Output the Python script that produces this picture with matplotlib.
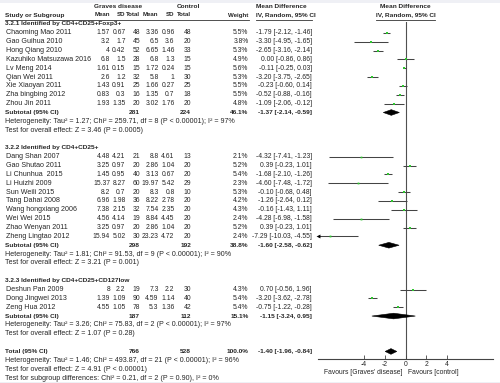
import numpy as np
import matplotlib as mpl
mpl.use('Agg')
import matplotlib.pyplot as plt
from matplotlib.patches import Polygon, Rectangle

#
#--- study level data (three subgroups)
#
grp_titles = ['3.2.1 Identified by CD4+CD25+Foxp3+',
              '3.2.2 Identified by CD4+CD25+',
              '3.2.3 Identified by CD4+CD25+CD127low']

names  = ['Chaoming Mao 2011', 'Gao Guihua 2010', 'Hong Qiang 2010',
          'Kazuhiko Matsuzawa 2016', 'Lv Meng 2014', 'Qian Wei 2011',
          'Xie Xiaoyan 2011', 'Zha bingbing 2012', 'Zhou Jin 2011',
          'Dang Shan 2007', 'Gao Shutao 2011', 'Li Chunhua  2015',
          'Li Huizhi 2009', 'Sun Weili 2015', 'Tang Dahai 2008',
          'Wang hongxiang 2006', 'Wei Wei 2015', 'Zhao Wenyan 2011',
          'Zheng Lingtao 2012',
          'Deshun Pan 2009', 'Dong Jingwei 2013', 'Zeng Hua 2012']
group  = [0] * 9 + [1] * 10 + [2] * 3

g_mean = [1.57, 3.2, 4, 6.8, 1.61, 2.6, 1.43, 0.83, 1.93,
          4.48, 3.25, 1.45, 15.37, 8.2, 6.96, 7.38, 4.56, 3.25, 15.94,
          8, 1.39, 4.55]
g_sd   = [0.67, 1.7, 0.42, 1.5, 0.15, 1.2, 0.91, 0.3, 1.35,
          4.21, 0.97, 0.95, 8.27, 0.7, 1.98, 2.15, 4.14, 0.97, 5.02,
          2.2, 1.09, 1.05]
g_tot  = [48, 45, 52, 28, 15, 32, 25, 16, 20,
          21, 20, 40, 60, 20, 36, 32, 19, 20, 30,
          19, 90, 78]
c_mean = [3.36, 6.5, 6.65, 6.8, 1.72, 5.8, 1.66, 1.35, 3.02,
          8.8, 2.86, 3.13, 19.97, 8.3, 8.22, 7.54, 8.84, 2.86, 23.23,
          7.3, 4.59, 5.3]
c_sd   = [0.96, 3.6, 1.46, 1.3, 0.24, 1, 0.27, 0.7, 1.76,
          4.61, 1.04, 0.67, 5.42, 0.8, 2.78, 2.35, 4.45, 1.04, 4.72,
          2.2, 1.14, 1.36]
c_tot  = [48, 20, 33, 15, 15, 30, 25, 18, 20,
          13, 20, 20, 29, 10, 20, 20, 20, 20, 20,
          30, 40, 42]
weight = [5.5, 3.8, 5.3, 4.9, 5.6, 5.3, 5.5, 5.5, 4.8,
          2.1, 5.2, 5.4, 2.3, 5.3, 4.2, 4.3, 2.4, 5.2, 2.4,
          4.3, 5.4, 5.4]
md     = [-1.79, -3.30, -2.65, 0.00, -0.11, -3.20, -0.23, -0.52, -1.09,
          -4.32, 0.39, -1.68, -4.60, -0.10, -1.26, -0.16, -4.28, 0.39, -7.29,
          0.70, -3.20, -0.75]
md_lo  = [-2.12, -4.95, -3.16, -0.86, -0.25, -3.75, -0.60, -0.88, -2.06,
          -7.41, -0.23, -2.10, -7.48, -0.68, -2.64, -1.43, -6.98, -0.23, -10.03,
          -0.56, -3.62, -1.22]
md_hi  = [-1.46, -1.65, -2.14, 0.86, 0.03, -2.65, 0.14, -0.16, -0.12,
          -1.23, 1.01, -1.26, -1.72, 0.48, 0.12, 1.11, -1.58, 1.01, -4.55,
          1.96, -2.78, -0.28]

#
#--- subgroup summaries
#
sub_gtot = [281, 298, 187]
sub_ctot = [224, 192, 112]
sub_wt   = [46.1, 38.8, 15.1]
sub_md   = [-1.37, -1.60, -1.15]
sub_lo   = [-2.14, -2.58, -3.24]
sub_hi   = [-0.59, -0.62, 0.95]
sub_het  = ['Heterogeneity: Tau\u00b2 = 1.27; Chi\u00b2 = 259.71, df = 8 (P < 0.00001); I\u00b2 = 97%',
            'Heterogeneity: Tau\u00b2 = 1.81; Chi\u00b2 = 91.53, df = 9 (P < 0.00001); I\u00b2 = 90%',
            'Heterogeneity: Tau\u00b2 = 3.26; Chi\u00b2 = 75.83, df = 2 (P < 0.00001); I\u00b2 = 97%']
sub_test = ['Test for overall effect: Z = 3.46 (P = 0.0005)',
            'Test for overall effect: Z = 3.21 (P = 0.001)',
            'Test for overall effect: Z = 1.07 (P = 0.28)']

#
#--- overall summary
#
tot_gtot = 766
tot_ctot = 528
tot_wt   = 100.0
tot_md   = -1.40
tot_lo   = -1.96
tot_hi   = -0.84
tot_text = ['Heterogeneity: Tau\u00b2 = 1.46; Chi\u00b2 = 493.87, df = 21 (P < 0.00001); I\u00b2 = 96%',
            'Test for overall effect: Z = 4.91 (P < 0.00001)',
            'Test for subgroup differences: Chi\u00b2 = 0.21, df = 2 (P = 0.90), I\u00b2 = 0%']

xticks = [-4, -2, 0, 2, 4]

#
#--- layout (pixel positions on a 500x383 canvas)
#
W, H    = 500, 383
ROW0    = 24.0
DROW    = 8.85
XMIN    = -8.43
XMAX    = 8.43
FS      = 5.15      # running text
FN      = 4.85      # numeric table columns
FB      = 4.65      # bold labels / totals
FH      = 4.4       # bold column headers
TCOL    = '#262626'

X_NAME  = 6
X_GM    = 110
X_GSD   = 125.5
X_GN    = 140
X_CM    = 158.5
X_CSD   = 174.5
X_CN    = 191
X_WT    = 248.5
X_MDL   = 256
X_MD    = 312


def ypx(r):
    return ROW0 + DROW * r


def put(ax, x, r, s, ha='left', bold=False, size=FS):
    ax.text(x, ypx(r), s, ha=ha, va='center', fontsize=size, color=TCOL,
            fontweight='bold' if bold else 'normal')


def diamond(ax, est, lo, hi, r, h=0.32):
    p = Polygon([[lo, r], [est, r - h], [hi, r], [est, r + h]],
                closed=True, facecolor='black', edgecolor='black', lw=0.4, zorder=4)
    ax.add_patch(p)


plt.rcParams['font.family']        = ['Liberation Sans', 'DejaVu Sans']
plt.rcParams['axes.unicode_minus'] = False

fig = plt.figure(figsize=(5.0, 3.83), dpi=100)
fig.patch.set_facecolor('#eff0f5')
fig.patches.append(Rectangle((0, 1.5 / H), 1, (H - 4.5) / H, transform=fig.transFigure,
                             facecolor='white', edgecolor='none', zorder=-5))

#
#--- text layer in pixel coordinates
#
at = fig.add_axes([0, 0, 1, 1])
at.set_xlim(0, W)
at.set_ylim(H, 0)
at.axis('off')
at.patch.set_alpha(0)

#
#--- forest panel, y in row units
#
y_top = 22.0
y_bot = 359.3
af = fig.add_axes([318 / W, (H - y_bot) / H, 175 / W, (y_bot - y_top) / H])
af.set_xlim(XMIN, XMAX)
af.set_ylim((y_bot - ROW0) / DROW, (y_top - ROW0) / DROW)
af.patch.set_alpha(0)
for s in ['top', 'left', 'right']:
    af.spines[s].set_visible(False)
af.spines['bottom'].set_color('#444444')
af.spines['bottom'].set_linewidth(0.8)
af.set_yticks([])
af.set_xticks(xticks)
af.set_xticklabels([str(t) for t in xticks])
af.tick_params(axis='x', direction='in', length=3, width=0.6, color='#444444',
               labelsize=FN, labelcolor=TCOL, pad=1.2)
af.axvline(0, color='#505050', lw=0.8, zorder=1)

#
#--- column headers
#
hr1 = (7.0 - ROW0) / DROW
hr2 = (15.0 - ROW0) / DROW
put(at, 118, hr1, 'Graves disease', ha='center', bold=True, size=FB)
put(at, 188, hr1, 'Control', ha='center', bold=True, size=FB)
put(at, 5, hr2, 'Study or Subgroup', bold=True, size=FB)
for x, s in zip([X_GM, X_GSD, X_GN, X_CM, X_CSD, X_CN, X_WT],
                ['Mean', 'SD', 'Total', 'Mean', 'SD', 'Total', 'Weight']):
    put(at, x, hr2, s, ha='right', bold=True, size=FH)
put(at, X_MDL, hr1, 'Mean Difference', bold=True, size=FB)
put(at, X_MDL, hr2, 'IV, Random, 95% CI', bold=True, size=FB)
put(at, 405.5, hr1, 'Mean Difference', ha='center', bold=True, size=FB)
put(at, 405.5, hr2, 'IV, Random, 95% CI', ha='center', bold=True, size=FB)
for x0, x1 in [(5, 249), (256, 312), (376, 435)]:
    at.plot([x0, x1], [19.6, 19.6], color='#333333', lw=0.6)

#
#--- groups, studies and subtotals
#
r = 0
for g in range(len(grp_titles)):
    put(at, 5, r, grp_titles[g], bold=True, size=FB)
    r += 1
    for i in [k for k in range(len(names)) if group[k] == g]:
        put(at, X_NAME, r, names[i])
        put(at, X_GM, r, f'{g_mean[i]:g}', ha='right', size=FN)
        put(at, X_GSD, r, f'{g_sd[i]:g}', ha='right', size=FN)
        put(at, X_GN, r, f'{g_tot[i]}', ha='right', size=FN)
        put(at, X_CM, r, f'{c_mean[i]:g}', ha='right', size=FN)
        put(at, X_CSD, r, f'{c_sd[i]:g}', ha='right', size=FN)
        put(at, X_CN, r, f'{c_tot[i]}', ha='right', size=FN)
        put(at, X_WT, r, f'{weight[i]:.1f}%', ha='right', size=FN)
        put(at, X_MD, r, f'{md[i]:.2f} [{md_lo[i]:.2f}, {md_hi[i]:.2f}]', ha='right', size=FN)

        lo = max(md_lo[i], XMIN)
        hi = min(md_hi[i], XMAX)
        af.plot([lo, hi], [r, r], color='#444444', lw=0.75, zorder=2,
                solid_capstyle='butt', snap=True)
        if md_lo[i] < XMIN:
            af.plot([XMIN], [r], marker='<', ms=2.8, color='black', mew=0, clip_on=False, zorder=3)
        af.plot([md[i]], [r], marker='s', ms=0.85 * np.sqrt(weight[i]),
                color='#2fc62f', mew=0, zorder=3)
        r += 1

    put(at, 5, r, 'Subtotal (95% CI)', bold=True, size=FB)
    put(at, X_GN, r, f'{sub_gtot[g]}', ha='right', bold=True, size=FB)
    put(at, X_CN, r, f'{sub_ctot[g]}', ha='right', bold=True, size=FB)
    put(at, X_WT, r, f'{sub_wt[g]:.1f}%', ha='right', bold=True, size=FB)
    put(at, X_MD, r, f'{sub_md[g]:.2f} [{sub_lo[g]:.2f}, {sub_hi[g]:.2f}]', ha='right', bold=True, size=FB)
    diamond(af, sub_md[g], sub_lo[g], sub_hi[g], r)
    put(at, 5, r + 1, sub_het[g])
    put(at, 5, r + 2, sub_test[g])
    r += 4

#
#--- overall total
#
put(at, 5, r, 'Total (95% CI)', bold=True, size=FB)
put(at, X_GN, r, f'{tot_gtot}', ha='right', bold=True, size=FB)
put(at, X_CN, r, f'{tot_ctot}', ha='right', bold=True, size=FB)
put(at, X_WT, r, f'{tot_wt:.1f}%', ha='right', bold=True, size=FB)
put(at, X_MD, r, f'{tot_md:.2f} [{tot_lo:.2f}, {tot_hi:.2f}]', ha='right', bold=True, size=FB)
diamond(af, tot_md, tot_lo, tot_hi, r)
for k, s in enumerate(tot_text):
    put(at, 5, r + 1 + k, s)

#
#--- favours labels under the axis
#
fr = (372.0 - ROW0) / DROW
put(at, 402, fr, "Favours [Graves' disease]", ha='right', size=FN)
put(at, 408.5, fr, 'Favours [control]', size=FN)

plt.savefig('out.png', dpi=100, facecolor=fig.get_facecolor())
plt.close('all')
